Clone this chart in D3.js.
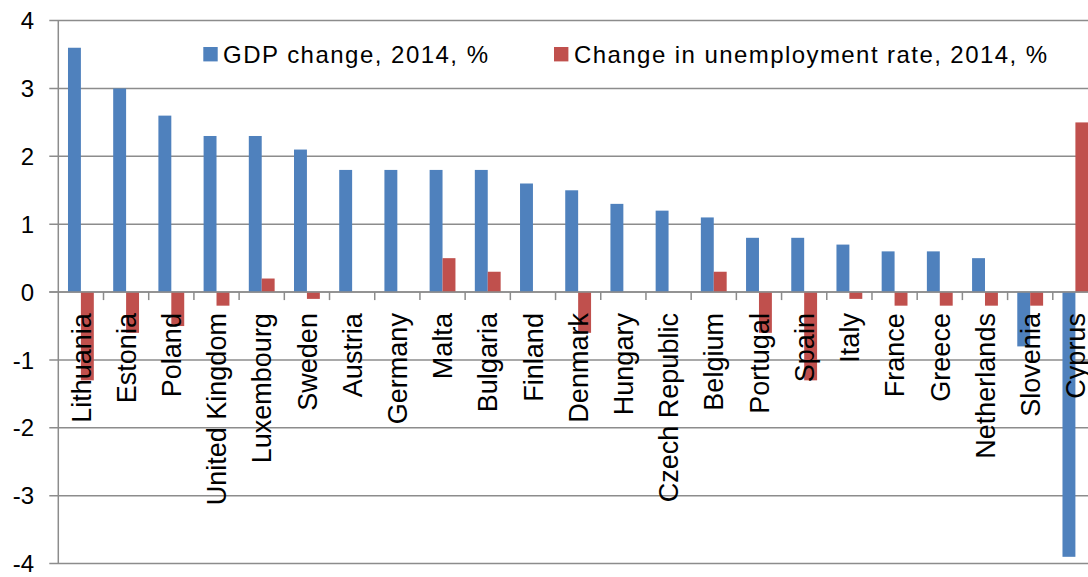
<!DOCTYPE html>
<html>
<head>
<meta charset="utf-8">
<script src="https://cdn.jsdelivr.net/npm/d3@7"></script>
<style>
  html, body { margin: 0; padding: 0; background: #fff; overflow: hidden; }
  svg { display: block; font-family: "Liberation Sans", Arial, sans-serif; }
</style>
</head>
<body>
<svg id="chart" width="1088" height="577"></svg>
<script>
// ---- data ----
const countries = ["Lithuania","Estonia","Poland","United Kingdom","Luxembourg","Sweden","Austria","Germany","Malta","Bulgaria","Finland","Denmark","Hungary","Czech Republic","Belgium","Portugal","Spain","Italy","France","Greece","Netherlands","Slovenia","Cyprus"];
const gdpChange = [3.6,3.0,2.6,2.3,2.3,2.1,1.8,1.8,1.8,1.8,1.6,1.5,1.3,1.2,1.1,0.8,0.8,0.7,0.6,0.6,0.5,-0.8,-3.9];
const unemploymentChange = [-1.3,-0.6,-0.5,-0.2,0.2,-0.1,0,0,0.5,0.3,0,-0.6,0,0,0.3,-0.6,-1.3,-0.1,-0.2,-0.2,-0.2,-0.2,2.5];
const seriesNames = ["GDP change, 2014, %", "Change in unemployment rate, 2014, %"];
const yTicks = [-4,-3,-2,-1,0,1,2,3,4];

// ---- layout ----
const colors = ["#4F81BD", "#C0504D"];
const svg = d3.select("#chart");
const plotLeft = 58.3, plotRight = 1098, plotTop = 20.6, plotBottom = 563.6;

const x = d3.scaleBand().domain(countries).range([plotLeft, plotRight]).paddingInner(0).paddingOuter(0);
const y = d3.scaleLinear().domain([-4, 4]).range([plotBottom, plotTop]);
const barW = x.bandwidth() / 3.5;

const gridColor = "#8c8c8c";

// horizontal gridlines (with left tick)
svg.append("g").selectAll("line").data(yTicks).join("line")
  .attr("x1", plotLeft - 9).attr("x2", 1088)
  .attr("y1", d => y(d)).attr("y2", d => y(d))
  .attr("stroke", gridColor).attr("stroke-width", 1.5);

// y axis line
svg.append("line")
  .attr("x1", plotLeft).attr("x2", plotLeft)
  .attr("y1", y(4)).attr("y2", y(-4))
  .attr("stroke", gridColor).attr("stroke-width", 1.5);

// y tick labels
svg.append("g").selectAll("text").data(yTicks).join("text")
  .attr("x", 34).attr("y", d => y(d)).attr("dy", "0.36em")
  .attr("text-anchor", "end").attr("font-size", 24).attr("fill", "#000")
  .text(d => d);

// bars
const series = [gdpChange, unemploymentChange];
series.forEach((vals, si) => {
  svg.append("g").selectAll("rect").data(vals).join("rect")
    .attr("x", (d, i) => x(countries[i]) + x.bandwidth() / 2 - barW + si * barW)
    .attr("width", barW)
    .attr("y", d => Math.min(y(d), y(0)))
    .attr("height", d => Math.abs(y(d) - y(0)))
    .attr("fill", colors[si]);
});

// zero axis line + category tick marks
svg.append("line")
  .attr("x1", plotLeft - 9).attr("x2", 1088)
  .attr("y1", y(0)).attr("y2", y(0))
  .attr("stroke", gridColor).attr("stroke-width", 1.5);
svg.append("g").selectAll("line").data(countries.slice(1)).join("line")
  .attr("x1", d => x(d)).attr("x2", d => x(d))
  .attr("y1", y(0)).attr("y2", y(0) + 8)
  .attr("stroke", gridColor).attr("stroke-width", 1.5);

// category labels (rotated)
svg.append("g").selectAll("text").data(countries).join("text")
  .attr("transform", d => `translate(${x(d) + x.bandwidth() / 2},${y(0) + 21}) rotate(-90)`)
  .attr("dy", "0.36em")
  .attr("text-anchor", "end").attr("font-size", 27).attr("fill", "#000")
  .text(d => d);

// legend
const legendItems = [
  { sq: 203.3, tx: 223, w: 265 },
  { sq: 554, tx: 574, w: 473 }
];
legendItems.forEach((li, i) => {
  svg.append("rect").attr("x", li.sq).attr("y", 47).attr("width", 14.4).attr("height", 14.4).attr("fill", colors[i]);
  svg.append("text").attr("x", li.tx).attr("y", 54).attr("dy", "0.36em")
    .attr("font-size", 24).attr("fill", "#000")
    .attr("textLength", li.w).attr("lengthAdjust", "spacing")
    .text(seriesNames[i]);
});
</script>
</body>
</html>
